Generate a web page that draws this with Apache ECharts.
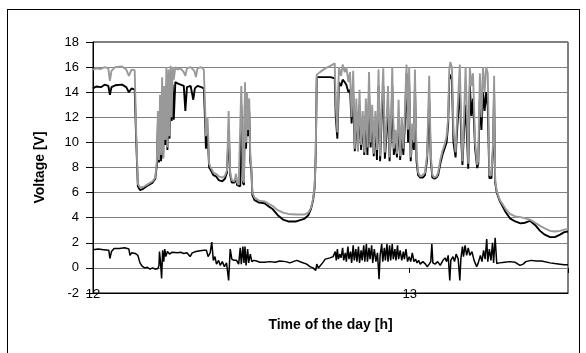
<!DOCTYPE html>
<html>
<head>
<meta charset="utf-8">
<script src="https://cdn.jsdelivr.net/npm/echarts@6/dist/echarts.min.js"></script>
<style>
    html, body { margin: 0; padding: 0; background: #fff; }
    #wrap { position: relative; width: 586px; height: 353px; overflow: hidden; }
    #frame { position: absolute; left: 7px; top: 9px; width: 571px; height: 400px; border: 1px solid #000; }
    #chart { position: absolute; left: 0; top: 0; width: 586px; height: 353px; }
</style>
</head>
<body>
<div id="wrap">
    <div id="frame"></div>
    <div id="chart"></div>
</div>
<script>
// 时间单位: 12:00 之后的分钟
var hourTicks = [12, 13];

// 灰色曲线 (上)
var grayPts = [[0,15.8],[0.6,15.9],[1.5,15.85],[2.2,16.0],[2.9,15.9],[3.2,14.9],[3.5,15.7],[4.2,16.0],[5.5,16.05],[6.3,15.8],[6.8,15.3],[7.3,15.8],[7.9,15.75],[8.2,10.5],[8.5,6.7],[8.9,6.4],[9.5,6.45],[10.5,6.7],[11.3,6.9],[11.8,7.2],[12.1,8.5],[12.3,12.5],[12.5,8.6],[12.7,13.8],[12.9,9.0],[13.1,15.2],[13.3,8.7],[13.5,14.5],[13.7,10.2],[13.9,16.0],[14.1,9.6],[14.3,15.8],[14.5,10.5],[14.7,16.1],[14.9,12.0],[15.1,16.0],[15.3,15.0],[15.6,16.0],[16.0,15.8],[16.6,15.9],[17.2,15.6],[17.5,15.3],[17.8,15.9],[18.5,16.0],[19.2,15.7],[19.5,15.2],[19.8,15.9],[20.5,16.0],[21.0,15.8],[21.3,12.0],[21.4,10.5],[21.7,12.0],[22.0,8.3],[22.3,8.0],[22.8,7.6],[23.3,7.5],[23.8,7.3],[24.5,7.2],[25.0,7.35],[25.4,7.8],[25.7,12.5],[26.0,7.6],[26.3,7.0],[26.8,6.9],[27.1,7.5],[27.3,6.8],[27.6,6.6],[27.9,6.6],[28.1,14.5],[28.4,7.0],[28.6,6.8],[28.8,14.8],[29.0,10.0],[29.2,14.0],[29.4,11.0],[29.6,13.5],[29.8,9.0],[30.0,8.0],[30.2,6.0],[30.6,5.6],[31.5,5.35],[32.5,5.3],[33.3,5.1],[34.0,4.95],[35.0,4.6],[36.0,4.4],[37.0,4.3],[38.5,4.25],[40.0,4.25],[40.8,4.4],[41.3,4.8],[41.7,5.5],[42.0,6.5],[42.2,9.0],[42.4,15.4],[43.0,15.6],[44.0,15.9],[45.0,16.1],[45.8,16.3],[46.0,13.0],[46.3,10.8],[46.6,16.0],[47.0,15.3],[47.3,16.2],[47.7,15.6],[48.0,16.0],[48.4,14.8],[48.7,15.6],[49.0,12.0],[49.3,15.7],[49.6,9.5],[49.9,13.5],[50.2,9.3],[50.5,14.2],[50.8,9.8],[51.1,12.5],[51.4,9.2],[51.7,13.5],[52.0,9.6],[52.3,15.6],[52.6,10.0],[52.9,13.0],[53.2,9.1],[53.5,12.5],[53.8,9.4],[54.1,15.8],[54.4,8.9],[54.7,13.0],[55.0,15.9],[55.3,9.2],[55.6,11.5],[55.9,14.5],[56.2,8.8],[56.5,12.0],[56.7,16.0],[57.0,9.5],[57.3,11.0],[57.6,9.1],[57.9,13.4],[58.2,8.9],[58.5,12.0],[58.8,9.5],[59.1,12.5],[59.4,16.2],[59.7,11.0],[59.9,16.0],[60.2,8.8],[60.5,11.5],[60.8,10.0],[61.0,15.8],[61.3,9.0],[61.6,7.6],[62.0,7.3],[62.5,7.4],[62.9,7.6],[63.3,9.0],[63.7,15.3],[64.0,9.0],[64.3,7.4],[64.7,7.2],[65.1,7.3],[65.4,7.6],[65.8,8.6],[66.2,9.3],[66.6,9.8],[67.0,10.5],[67.3,12.0],[67.5,15.8],[67.7,16.4],[68.0,16.0],[68.3,11.0],[68.7,9.2],[69.0,12.0],[69.5,16.2],[69.8,11.0],[70.0,8.5],[70.3,12.0],[70.6,16.0],[70.9,11.5],[71.1,8.3],[71.4,16.0],[71.7,14.5],[72.0,15.5],[72.4,10.0],[72.8,8.2],[73.0,8.6],[73.3,15.5],[73.6,12.0],[73.9,16.0],[74.2,14.0],[74.5,16.0],[74.8,15.5],[75.1,7.4],[75.5,7.4],[75.8,10.0],[76.0,15.3],[76.2,7.0],[76.5,6.1],[77.1,5.4],[78.1,4.75],[79.0,4.3],[80.0,4.1],[81.0,4.05],[81.9,3.95],[82.8,3.85],[83.8,3.6],[84.7,3.35],[85.6,3.15],[86.6,2.95],[87.5,2.9],[88.5,2.95],[89.3,3.05],[90.0,3.1]];

// 黑色曲线 (上)
var blackPts = [[0,14.3],[0.6,14.45],[1.5,14.4],[2.2,14.6],[2.9,14.5],[3.2,13.8],[3.5,14.4],[4.2,14.55],[5.5,14.6],[6.3,14.4],[6.8,14.0],[7.3,14.3],[7.9,14.2],[8.2,10.0],[8.5,6.5],[8.9,6.2],[9.5,6.3],[10.5,6.6],[11.3,6.8],[11.8,7.1],[12.1,8.2],[12.3,11.5],[12.5,8.4],[12.7,12.0],[12.9,8.5],[13.1,13.0],[13.3,8.8],[13.5,13.5],[13.7,9.8],[13.9,14.5],[14.1,9.4],[14.3,14.6],[14.5,10.3],[14.7,14.8],[14.9,11.7],[15.1,14.6],[15.3,11.8],[15.6,14.8],[16.0,14.7],[16.6,14.6],[17.2,14.5],[17.5,12.5],[17.8,14.4],[18.5,14.5],[19.0,13.4],[19.3,14.3],[19.8,14.5],[20.5,14.4],[21.0,14.3],[21.3,11.0],[21.4,9.5],[21.7,11.0],[22.0,8.0],[22.3,7.8],[22.8,7.4],[23.3,7.3],[23.8,7.0],[24.5,6.9],[25.0,7.1],[25.4,7.6],[25.7,11.0],[26.0,7.4],[26.3,6.8],[26.8,6.8],[27.1,7.2],[27.3,6.6],[27.6,6.5],[27.9,6.5],[28.1,13.0],[28.4,6.8],[28.6,6.6],[28.8,13.8],[29.0,9.5],[29.2,12.8],[29.4,10.5],[29.6,12.5],[29.8,8.5],[30.0,7.8],[30.2,5.8],[30.6,5.4],[31.5,5.2],[32.5,5.15],[33.3,4.9],[34.0,4.7],[35.0,4.2],[36.0,3.85],[37.0,3.7],[38.5,3.7],[40.0,3.9],[40.8,4.2],[41.3,4.7],[41.7,5.4],[42.0,6.4],[42.2,9.0],[42.4,15.2],[43.0,15.2],[44.0,15.2],[45.0,15.2],[45.8,15.1],[46.0,12.0],[46.3,10.3],[46.6,14.8],[47.0,14.5],[47.3,15.0],[47.7,14.8],[48.0,14.6],[48.4,14.0],[48.7,14.2],[49.0,11.5],[49.3,14.0],[49.6,9.3],[49.9,12.5],[50.2,9.3],[50.5,13.0],[50.8,9.4],[51.1,11.8],[51.4,9.0],[51.7,12.5],[52.0,9.0],[52.3,14.0],[52.6,9.6],[52.9,12.0],[53.2,8.9],[53.5,11.5],[53.8,8.6],[54.1,14.5],[54.4,8.5],[54.7,12.0],[55.0,14.5],[55.3,8.7],[55.6,10.5],[55.9,13.0],[56.2,8.5],[56.5,11.0],[56.7,14.5],[57.0,9.0],[57.3,10.0],[57.6,8.8],[57.9,12.0],[58.2,8.6],[58.5,11.0],[58.8,9.0],[59.1,11.5],[59.4,15.5],[59.7,10.0],[59.9,14.8],[60.2,8.5],[60.5,10.5],[60.8,9.4],[61.0,14.5],[61.3,8.5],[61.6,7.4],[62.0,7.2],[62.5,7.2],[62.9,7.4],[63.3,8.6],[63.7,13.5],[64.0,8.6],[64.3,7.2],[64.7,7.1],[65.1,7.2],[65.4,7.4],[65.8,8.3],[66.2,9.0],[66.6,9.5],[67.0,10.0],[67.3,11.5],[67.5,15.0],[67.7,15.4],[68.0,15.0],[68.3,10.0],[68.7,8.8],[69.0,11.0],[69.5,14.5],[69.8,10.0],[70.0,8.2],[70.3,11.0],[70.6,13.0],[70.9,10.0],[71.1,7.9],[71.4,14.5],[71.7,12.1],[72.0,13.5],[72.4,9.5],[72.8,7.95],[73.0,8.3],[73.3,13.5],[73.6,11.0],[73.9,14.0],[74.2,12.5],[74.5,14.0],[74.8,12.8],[75.1,7.15],[75.5,7.15],[75.8,9.5],[76.0,14.0],[76.2,6.8],[76.5,6.0],[77.1,5.3],[78.1,4.5],[79.0,3.95],[80.0,3.7],[81.0,3.55],[81.9,3.6],[82.8,3.75],[83.8,3.4],[84.7,2.95],[85.6,2.65],[86.6,2.45],[87.5,2.45],[88.5,2.65],[89.3,2.85],[90.0,2.9]];

// 黑色曲线 (下)
var lowerPts = [[0,1.45],[1.0,1.5],[2.0,1.45],[3.0,1.4],[3.2,0.75],[3.5,1.3],[4.0,1.55],[5.0,1.55],[6.0,1.6],[6.8,1.5],[7.0,1.0],[7.3,1.2],[8.0,1.15],[8.5,1.0],[8.9,0.4],[9.3,0.15],[9.8,0.0],[10.3,0.05],[10.8,-0.1],[11.3,0.0],[11.8,-0.1],[12.3,-0.05],[12.5,0.2],[12.6,1.3],[12.8,0.4],[13.0,-0.85],[13.2,1.4],[13.4,0.5],[13.6,1.5],[13.8,0.9],[14.1,1.3],[14.5,1.1],[15.0,1.25],[16.0,1.2],[16.6,1.25],[17.2,1.15],[17.8,1.2],[18.4,0.9],[18.8,1.2],[19.5,1.3],[20.0,1.35],[21.0,1.4],[21.5,1.4],[21.8,0.9],[22.2,1.2],[22.5,2.05],[22.8,0.6],[23.1,0.9],[23.4,0.3],[23.8,0.6],[24.1,0.2],[24.5,0.5],[24.9,0.1],[25.3,0.4],[25.7,-1.0],[26.0,1.5],[26.3,0.7],[26.7,0.6],[27.2,0.6],[27.6,0.3],[27.9,1.6],[28.1,0.3],[28.4,1.7],[28.6,0.4],[28.8,1.7],[29.0,0.2],[29.3,1.5],[29.5,0.4],[29.8,1.1],[30.1,0.5],[30.5,0.6],[31.0,0.55],[31.6,0.45],[32.5,0.45],[33.5,0.5],[34.5,0.45],[35.4,0.55],[36.5,0.5],[37.3,0.4],[38.6,0.6],[39.5,0.45],[40.5,0.3],[41.1,0.1],[41.7,0.0],[42.2,-0.2],[42.4,0.3],[42.7,0.0],[43.0,0.1],[43.5,0.4],[44.0,0.7],[44.9,0.8],[45.5,0.9],[45.9,1.3],[46.1,0.6],[46.3,1.5],[46.5,0.7],[46.8,1.1],[47.0,0.8],[47.3,1.6],[47.5,0.6],[47.8,1.2],[48.0,0.5],[48.3,1.7],[48.5,0.7],[48.8,1.3],[49.0,0.4],[49.3,1.8],[49.5,0.6],[49.8,1.5],[50.0,0.5],[50.3,1.7],[50.5,0.4],[50.8,1.4],[51.0,0.6],[51.3,1.8],[51.5,0.5],[51.8,1.9],[52.0,0.5],[52.3,1.6],[52.5,0.7],[52.8,1.8],[53.0,0.4],[53.3,1.5],[53.6,0.5],[53.9,1.2],[54.2,-0.9],[54.4,1.0],[54.7,1.9],[54.9,0.5],[55.2,1.6],[55.4,0.6],[55.7,1.9],[55.9,0.5],[56.2,1.8],[56.4,0.6],[56.7,1.9],[56.9,0.7],[57.2,1.5],[57.4,0.6],[57.7,1.8],[57.9,0.7],[58.2,1.4],[58.5,0.6],[58.8,1.3],[59.0,0.7],[59.3,1.5],[59.6,0.5],[59.9,0.9],[60.2,0.5],[60.5,1.2],[60.8,0.5],[61.1,0.7],[61.4,0.4],[61.7,0.6],[62.0,0.3],[62.5,0.5],[63.0,0.3],[63.3,0.1],[63.7,0.3],[64.0,0.5],[64.2,1.9],[64.4,0.4],[64.8,0.3],[65.3,0.5],[65.8,0.2],[66.3,0.6],[66.7,0.8],[67.0,0.5],[67.3,1.0],[67.6,-1.0],[67.8,0.6],[68.2,0.9],[68.5,0.5],[68.8,1.1],[69.2,0.7],[69.5,-1.0],[69.7,0.7],[70.0,1.7],[70.2,0.9],[70.5,1.8],[70.8,1.0],[71.1,1.6],[71.4,1.0],[71.8,1.3],[72.2,0.6],[72.7,0.1],[73.0,0.4],[73.4,1.0],[73.7,0.5],[74.0,1.4],[74.3,0.7],[74.6,2.3],[74.8,0.5],[75.1,1.5],[75.4,0.6],[75.7,2.0],[75.9,0.4],[76.2,2.4],[76.5,0.35],[77.0,0.4],[78.0,0.45],[79.0,0.5],[80.0,0.45],[80.9,0.2],[81.5,0.3],[82.0,0.5],[83.0,0.6],[84.0,0.55],[85.0,0.55],[86.6,0.4],[87.5,0.35],[88.5,0.3],[89.3,0.25],[90.0,0.25]];

// 分钟 -> 小时
function toHours(pts) {
    return pts.map(function (p) {
        return [12 + p[0] / 60, p[1]];
    });
}

var font = 'Liberation Sans, Arial, sans-serif';
var chart = echarts.init(document.getElementById('chart'), null, {renderer: 'canvas'});

chart.setOption({
    animation: false,
    grid: {
        left: 93,
        right: 18,
        top: 42,
        bottom: 60,
        show: true,
        borderColor: '#000',
        borderWidth: 1
    },
    xAxis: [{
        type: 'value',
        min: 12,
        max: 13.5,
        interval: 1,
        name: 'Time of the day [h]',
        nameLocation: 'middle',
        nameGap: 25,
        nameTextStyle: {fontFamily: font, fontSize: 14, fontWeight: 'bold', color: '#000'},
        axisLine: {onZero: false, lineStyle: {color: '#000', width: 1}},
        axisTick: {show: false},
        splitLine: {show: false},
        axisLabel: {
            fontFamily: font,
            fontSize: 13,
            color: '#000',
            margin: 1,
            verticalAlign: 'middle',
            showMaxLabel: false,
            formatter: function (v) {
                return hourTicks.indexOf(v) > -1 ? String(v) : '';
            }
        }
    }, {
        // 零线上的刻度
        type: 'value',
        position: 'bottom',
        min: 12,
        max: 13.5,
        interval: 1,
        axisLine: {show: false, onZero: true},
        axisTick: {show: true, length: 5, lineStyle: {color: '#000'}},
        axisLabel: {show: false},
        splitLine: {show: false}
    }],
    yAxis: {
        type: 'value',
        min: -2,
        max: 18,
        interval: 2,
        name: 'Voltage [V]',
        nameLocation: 'middle',
        nameGap: 46,
        nameTextStyle: {fontFamily: font, fontSize: 14, fontWeight: 'bold', color: '#000'},
        axisLine: {show: true, lineStyle: {color: '#000', width: 1}},
        axisTick: {show: true, length: 7, lineStyle: {color: '#000'}},
        axisLabel: {fontFamily: font, fontSize: 13, color: '#000', margin: 14},
        splitLine: {lineStyle: {color: '#808080', width: 1}}
    },
    series: [{
        name: 'lower',
        type: 'line',
        data: toHours(lowerPts),
        showSymbol: false,
        symbol: 'none',
        lineStyle: {color: '#000', width: 1.5}
    }, {
        name: 'black',
        type: 'line',
        data: toHours(blackPts),
        showSymbol: false,
        symbol: 'none',
        lineStyle: {color: '#000', width: 1.9}
    }, {
        name: 'gray',
        type: 'line',
        data: toHours(grayPts),
        showSymbol: false,
        symbol: 'none',
        lineStyle: {color: '#999', width: 1.9}
    }]
});
</script>
</body>
</html>
